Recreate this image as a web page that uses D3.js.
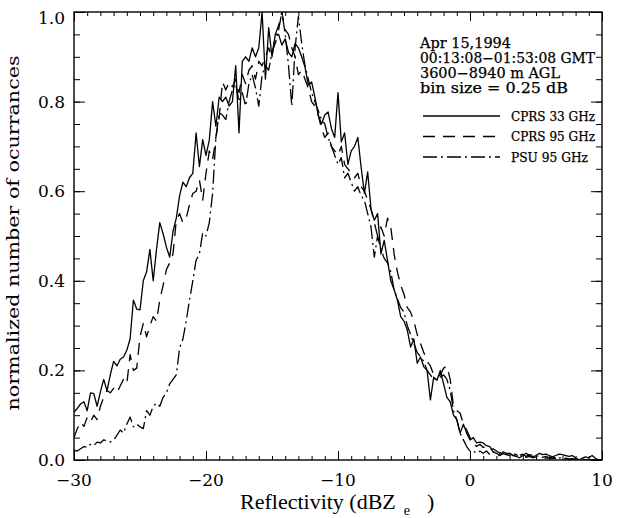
<!DOCTYPE html>
<html>
<head>
<meta charset="utf-8">
<script src="https://cdn.jsdelivr.net/npm/d3@7"></script>
<style>
  body { margin: 0; background: #fff; }
  svg { display: block; }
  .tick-lbl { font-family: "DejaVu Serif", serif; font-size: 17px; fill: #000; }
  .note { font-family: "DejaVu Serif", serif; font-size: 14px; fill: #000; stroke: #000; stroke-width: 0.25; }
  .leg { font-family: "DejaVu Serif", serif; font-size: 12.5px; fill: #000; stroke: #000; stroke-width: 0.25; }
</style>
</head>
<body>
<div id="chart"></div>
<script>
// bins are 0.25 dB wide, from -30 to 10 dBZe
const binStart = -30, binStep = 0.25;

// CPRS 33 GHz (solid)
const cprs33 = [
  0.107, 0.115, 0.125, 0.13, 0.11, 0.15, 0.148, 0.12, 0.152, 0.18, 0.155, 0.19,
  0.22, 0.21, 0.225, 0.23, 0.245, 0.27, 0.357, 0.337, 0.335, 0.40, 0.42, 0.47,
  0.40, 0.47, 0.53, 0.505, 0.475, 0.453, 0.51, 0.54, 0.59, 0.62, 0.61, 0.63,
  0.64, 0.73, 0.655, 0.715, 0.68, 0.714, 0.80, 0.745, 0.81, 0.80, 0.81, 0.79,
  0.80, 0.88, 0.73, 0.89, 0.90, 0.89, 0.92, 0.90, 0.92, 1.0, 0.85, 0.965,
  0.90, 0.95, 0.95, 0.926, 0.94, 0.91, 0.90, 0.93, 0.92, 0.90, 0.877, 0.837,
  0.844, 0.81, 0.77, 0.75, 0.77, 0.777, 0.74, 0.72, 0.82, 0.71, 0.73, 0.66,
  0.69, 0.70, 0.72, 0.654, 0.595, 0.643, 0.56, 0.535, 0.55, 0.46, 0.49, 0.446,
  0.40, 0.38, 0.357, 0.32, 0.31, 0.29, 0.252, 0.27, 0.216, 0.23, 0.208, 0.20,
  0.134, 0.185, 0.178, 0.20, 0.17, 0.14, 0.13, 0.10, 0.09, 0.06, 0.08, 0.06,
  0.045, 0.05, 0.038, 0.04, 0.038, 0.032, 0.03, 0.018, 0.015, 0.01, 0.018, 0.015,
  0.015, 0.01, 0.008, 0.005, 0.01, 0.015, 0.01, 0.007, 0.01, 0.015, 0.012, 0.013,
  0.01, 0.007, 0.01, 0.013, 0.012, 0.01, 0.008, 0.01, 0.005, 0.0, 0.004, 0.007,
  0.005, 0.01, 0.004, 0.0, 0.0
];

// CPRS 95 GHz (dashed)
const cprs95 = [
  0.05, 0.07, 0.085, 0.075, 0.095, 0.085, 0.10, 0.09, 0.12, 0.14, 0.155, 0.15,
  0.16, 0.15, 0.165, 0.18, 0.17, 0.235, 0.20, 0.205, 0.275, 0.305, 0.275, 0.30,
  0.32, 0.31, 0.357, 0.39, 0.425, 0.44, 0.46, 0.535, 0.55, 0.53, 0.54, 0.57,
  0.595, 0.60, 0.625, 0.58, 0.64, 0.69, 0.67, 0.72, 0.765, 0.844, 0.826, 0.844,
  0.833, 0.85, 0.82, 0.86, 0.84, 0.87, 0.88, 0.85, 0.89, 0.88, 0.90, 0.92,
  0.90, 0.95, 0.97, 1.0, 0.96, 0.95, 0.92, 0.90, 0.86, 0.87, 0.85, 0.83,
  0.80, 0.79, 0.77, 0.74, 0.72, 0.73, 0.70, 0.69, 0.68, 0.70, 0.66, 0.65,
  0.64, 0.63, 0.64, 0.61, 0.60, 0.58, 0.56, 0.53, 0.50, 0.52, 0.50, 0.54,
  0.52, 0.46, 0.42, 0.39, 0.37, 0.34, 0.33, 0.31, 0.28, 0.26, 0.24, 0.22,
  0.21, 0.19, 0.185, 0.19, 0.205, 0.21, 0.18, 0.12, 0.11, 0.105, 0.08, 0.067,
  0.05, 0.038, 0.03, 0.035, 0.028, 0.03, 0.022, 0.025, 0.02, 0.015, 0.02, 0.012,
  0.015, 0.01, 0.012, 0.008, 0.01, 0.006, 0.008, 0.005, 0.007, 0.005, 0.006, 0.004,
  0.005, 0.003, 0.004, 0.003, 0.002, 0.003, 0.002, 0.001, 0.002, 0.001, 0.0, 0.001,
  0.0, 0.0, 0.0, 0.0, 0.0
];

// PSU 95 GHz (dash-dot)
const psu95 = [
  0.022, 0.02, 0.025, 0.03, 0.028, 0.035, 0.032, 0.04, 0.038, 0.045, 0.042, 0.04,
  0.045, 0.055, 0.067, 0.06, 0.08, 0.096, 0.074, 0.08, 0.074, 0.07, 0.11, 0.10,
  0.12, 0.127, 0.12, 0.14, 0.15, 0.17, 0.18, 0.19, 0.25, 0.27, 0.31, 0.357,
  0.40, 0.446, 0.46, 0.507, 0.50, 0.53, 0.595, 0.72, 0.775, 0.77, 0.76, 0.80,
  0.826, 0.84, 0.80, 0.82, 0.79, 0.84, 0.86, 0.83, 0.79, 0.86, 0.88, 0.87,
  0.91, 0.93, 0.96, 1.0, 0.95, 0.88, 0.79, 0.92, 0.99, 0.93, 0.88, 0.85,
  0.82, 0.80, 0.78, 0.76, 0.75, 0.72, 0.70, 0.68, 0.66, 0.675, 0.63, 0.64,
  0.62, 0.60, 0.61, 0.59, 0.58, 0.55, 0.52, 0.453, 0.50, 0.47, 0.45, 0.44,
  0.42, 0.38, 0.36, 0.34, 0.33, 0.30, 0.28, 0.26, 0.24, 0.23, 0.22, 0.20,
  0.19, 0.18, 0.18, 0.185, 0.19, 0.18, 0.156, 0.11, 0.09, 0.06, 0.045, 0.03,
  0.02, 0.02, 0.015, 0.02, 0.015, 0.02, 0.012, 0.018, 0.015, 0.01, 0.014, 0.012,
  0.01, 0.015, 0.012, 0.01, 0.013, 0.008, 0.012, 0.01, 0.008, 0.01, 0.006, 0.008,
  0.005, 0.007, 0.004, 0.005, 0.003, 0.004, 0.002, 0.003, 0.002, 0.001, 0.002, 0.001,
  0.0, 0.0, 0.0, 0.0, 0.0
];

const xMajor = [-30, -20, -10, 0, 10];
const yMajor = [0.0, 0.2, 0.4, 0.6, 0.8, 1.0];

const noteLines = ["Apr 15,1994", "00:13:08\u221201:53:08 GMT", "3600\u22128940 m AGL", "bin size = 0.25 dB"];
const legendNames = ["CPRS 33 GHz", "CPRS 95 GHz", "PSU 95 GHz"];
const legendDash = [null, "12,8", "14,4,2,4"];

const W = 621, H = 518;
const margin = {top: 12, right: 19, bottom: 58, left: 74};
const width = W - margin.left - margin.right;
const height = H - margin.top - margin.bottom;

const svg = d3.select("#chart").append("svg")
    .attr("width", W)
    .attr("height", H);

const g = svg.append("g")
    .attr("transform", `translate(${margin.left},${margin.top})`);

const x = d3.scaleLinear().domain([-30, 10]).range([0, width]);
const y = d3.scaleLinear().domain([0, 1]).range([height, 0]);

// minor ticks (inward), all four sides
const xMinor = d3.range(-30, 10.5, 1);
const yMinor = d3.range(0, 1.0001, 0.05);

function tickAxis(gen, tv, size, tr) {
    const a = g.append("g")
        .attr("transform", tr)
        .call(gen.tickValues(tv).tickSize(size).tickFormat(""));
    a.select(".domain").remove();
    a.selectAll("line").attr("stroke", "#000").attr("stroke-width", 1);
    return a;
}
tickAxis(d3.axisBottom(x), xMinor, -4, `translate(0,${height})`);
tickAxis(d3.axisTop(x), xMinor, -4, "translate(0,0)");
tickAxis(d3.axisBottom(x), xMajor, -9, `translate(0,${height})`);
tickAxis(d3.axisTop(x), xMajor, -9, "translate(0,0)");
tickAxis(d3.axisLeft(y), yMinor, -6, "translate(0,0)");
tickAxis(d3.axisRight(y), yMinor, -6, `translate(${width},0)`);
tickAxis(d3.axisLeft(y), yMajor, -11, "translate(0,0)");
tickAxis(d3.axisRight(y), yMajor, -11, `translate(${width},0)`);

// tick labels
g.selectAll(".xl").data(xMajor).enter().append("text")
    .attr("class", "tick-lbl")
    .attr("x", d => x(d))
    .attr("y", height + 26)
    .attr("text-anchor", "middle")
    .text(d => d3.format("d")(d));

g.selectAll(".yl").data(yMajor).enter().append("text")
    .attr("class", "tick-lbl")
    .attr("x", -9)
    .attr("y", d => y(d) + (d === 1 ? 12 : 6))
    .attr("text-anchor", "end")
    .text(d => d3.format(".1f")(d));

// frame
g.append("rect")
    .attr("width", width)
    .attr("height", height)
    .attr("fill", "none")
    .attr("stroke", "#000")
    .attr("stroke-width", 1.4);

// curves
const clip = svg.append("defs").append("clipPath").attr("id", "pc");
clip.append("rect").attr("width", width).attr("height", height);

const line = d3.line()
    .x((d, i) => x(binStart + i * binStep))
    .y(d => y(d));

const series = [cprs33, cprs95, psu95];
series.forEach((s, k) => {
    g.append("path")
        .datum(s)
        .attr("clip-path", "url(#pc)")
        .attr("fill", "none")
        .attr("stroke", "#000")
        .attr("stroke-width", 1.3)
        .attr("stroke-linejoin", "round")
        .attr("stroke-dasharray", legendDash[k])
        .attr("d", line);
});

// annotation, widths
const noteW = [91, 175, 140, 148];
noteLines.forEach((t, i) => {
    svg.append("text")
        .attr("class", "note")
        .attr("x", 420)
        .attr("y", 48 + i * 15)
        .attr("textLength", noteW[i])
        .attr("lengthAdjust", "spacingAndGlyphs")
        .text(t);
});

// legend
const legW = [84, 84, 77];
legendNames.forEach((t, i) => {
    const ly = 116 + i * 20.5;
    svg.append("line")
        .attr("x1", 423).attr("x2", 500)
        .attr("y1", ly).attr("y2", ly)
        .attr("stroke", "#000")
        .attr("stroke-width", 1.3)
        .attr("stroke-dasharray", legendDash[i]);
    svg.append("text")
        .attr("class", "leg")
        .attr("x", 511)
        .attr("y", ly + 4.5)
        .attr("textLength", legW[i])
        .attr("lengthAdjust", "spacingAndGlyphs")
        .text(t);
});

// axis titles
const xt = svg.append("text")
    .attr("x", 240)
    .attr("y", 509)
    .attr("font-family", "Liberation Serif, serif")
    .attr("font-size", 22);
xt.append("tspan").text("Reflectivity (dBZ");
xt.append("tspan").attr("dx", 8).attr("dy", 6).attr("font-size", 14).text("e");
xt.append("tspan").attr("dx", 17).attr("dy", -6).text(")");

svg.append("text")
    .attr("transform", "translate(19,233) rotate(-90)")
    .attr("text-anchor", "middle")
    .attr("font-family", "DejaVu Serif, serif")
    .attr("font-size", 17)
    .attr("textLength", 355)
    .attr("lengthAdjust", "spacingAndGlyphs")
    .text("normalized number of ocurrances");
</script>
</body>
</html>
